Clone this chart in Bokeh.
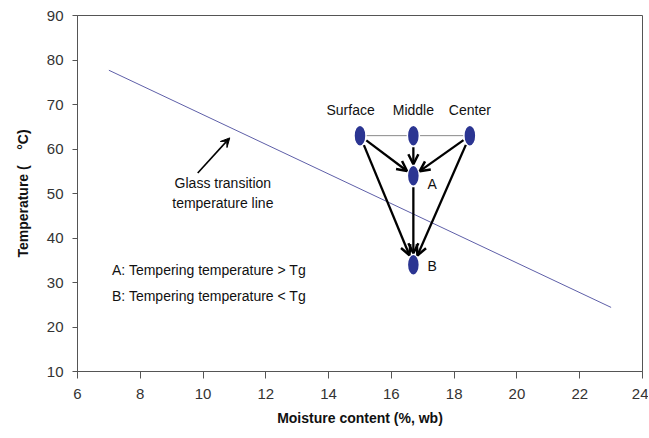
import math
from bokeh.plotting import figure
from bokeh.models import Arrow, OpenHead, VeeHead, Range1d, FixedTicker
from bokeh.core.properties import value
from bokeh.embed import file_html
from bokeh.resources import INLINE

# ---- data ----
x_ticks = [6, 8, 10, 12, 14, 16, 18, 20, 22, 24]
y_ticks = [10, 20, 30, 40, 50, 60, 70, 80, 90]

tg_x = [7.0, 23.0]          # glass transition temperature line
tg_y = [77.7, 24.4]

layer_names = ["Surface", "Middle", "Center"]
layer_x = [15.0, 16.7, 18.5]
layer_y = [63.0, 63.0, 63.0]
label_x = [14.7, 16.7, 18.5]
label_y = [68.8, 68.8, 68.8]

point_names = ["A", "B"]
point_x = [16.7, 16.7]
point_y = [54.0, 34.0]
point_label_x = [17.15, 17.15]
point_label_y = [52.1, 33.7]

# arrows: (from, to)
flows = [("Surface", "A"), ("Middle", "A"), ("Center", "A"),
         ("Surface", "B"), ("A", "B"), ("Center", "B")]

note_x = [7.1, 7.1]
note_y = [32.7, 26.9]
note_text = ["A: Tempering temperature > Tg", "B: Tempering temperature < Tg"]

gt_text = ["Glass transition", "temperature line"]
gt_x = [10.63, 10.63]
gt_y = [52.3, 47.8]
gt_arrow = [(9.83, 54.6), (10.85, 62.5)]

# ---- figure ----
W, H = 648, 436
BL, BT = 77, 15
FW, FH = 565, 356
BR, BB = W - BL - FW, H - BT - FH
X0, X1, Y0, Y1 = 6, 24, 10, 90

FONT = "Liberation Sans"
p = figure(width=W, height=H, output_backend="svg", toolbar_location=None,
           x_range=Range1d(X0, X1), y_range=Range1d(Y0, Y1),
           min_border_left=BL, min_border_right=BR, min_border_top=BT,
           min_border_bottom=BB)
p.xgrid.visible = False
p.ygrid.visible = False
p.outline_line_color = "#555555"
p.outline_line_width = 1
p.background_fill_color = "white"
p.border_fill_color = "white"

for ax in (p.xaxis[0], p.yaxis[0]):
    ax.axis_line_color = "#555555"
    ax.major_tick_line_color = "#555555"
    ax.minor_tick_line_color = None
    ax.major_tick_in = 0
    ax.major_label_text_font = FONT
    ax.major_label_text_font_size = "15px"
    ax.major_label_text_color = "#333333"
    ax.axis_label_text_font = FONT
    ax.axis_label_text_font_size = "14px"
    ax.axis_label_text_font_style = "bold"
    ax.axis_label_text_color = "#111111"

p.xaxis.ticker = FixedTicker(ticks=x_ticks)
p.yaxis.ticker = FixedTicker(ticks=y_ticks)
p.xaxis.axis_label = "Moisture content (%, wb)"
p.yaxis.axis_label = "Temperature (\u00a0\u00a0\u00a0\u00a0°C)"
p.xaxis.major_tick_out = 7
p.yaxis.major_tick_out = 5
p.xaxis.major_label_standoff = 10
p.yaxis.major_label_standoff = 9
p.xaxis.axis_label_standoff = 8
p.yaxis.axis_label_standoff = 13

# glass transition line
p.line(tg_x, tg_y, line_color="#5E5FA8", line_width=1)

# gray line linking layers
p.line(layer_x, layer_y, line_color="#8A8A8A", line_width=1)

# arrows, shortened to the marker edges
sx = FW / (X1 - X0)
sy = FH / (Y1 - Y0)
pos = {n: (x, y) for n, x, y in zip(layer_names, layer_x, layer_y)}
pos.update({n: (x, y) for n, x, y in zip(point_names, point_x, point_y)})
RA, RB = 6.0, 10.5

def edge(ux, uy):
    return 1.0 / math.sqrt((ux / RA) ** 2 + (uy / RB) ** 2)

for a, b in flows:
    (xa, ya), (xb, yb) = pos[a], pos[b]
    dx, dy = (xb - xa) * sx, (yb - ya) * sy
    L = math.hypot(dx, dy)
    ux, uy = dx / L, dy / L
    r = edge(ux, uy)
    s0, s1 = r + 1.0, r + 1.0
    p.add_layout(Arrow(
        x_start=xa + ux * s0 / sx, y_start=ya + uy * s0 / sy,
        x_end=xb - ux * s1 / sx, y_end=yb - uy * s1 / sy,
        line_color="black", line_width=2.3,
        end=OpenHead(size=10, line_width=2.5, line_color="black")))

# glass-transition pointer arrow
p.add_layout(Arrow(x_start=gt_arrow[0][0], y_start=gt_arrow[0][1],
                   x_end=gt_arrow[1][0], y_end=gt_arrow[1][1],
                   line_color="black", line_width=1.6,
                   end=VeeHead(size=9, fill_color="black", line_color="black",
                               line_width=1)))

# markers
mx = layer_x + point_x
my = layer_y + point_y
p.ellipse(x=mx, y=my, width=12, height=21, width_units="screen",
          height_units="screen", fill_color="#2B3592", line_color="white",
          line_width=1.5)

# texts
p.text(x=label_x, y=label_y, text=layer_names, text_font=value(FONT),
       text_font_size="14px", text_align="center", text_baseline="middle",
       text_color="#111111")
p.text(x=point_label_x, y=point_label_y, text=point_names, text_font=value(FONT),
       text_font_size="14px", text_align="left", text_baseline="middle",
       text_color="#111111")
p.text(x=note_x, y=note_y, text=note_text, text_font=value(FONT),
       text_font_size="14px", text_align="left", text_baseline="middle",
       text_color="#111111")
p.text(x=gt_x, y=gt_y, text=gt_text, text_font=value(FONT),
       text_font_size="14px", text_align="center", text_baseline="middle",
       text_color="#111111")

open("out.html", "w").write(file_html(p, INLINE))
